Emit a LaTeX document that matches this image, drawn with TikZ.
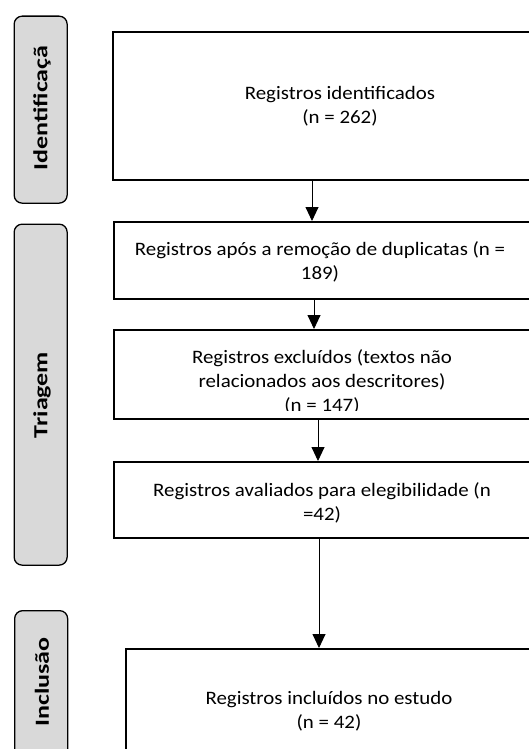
\documentclass[tikz,border=0pt]{standalone}
\usepackage{fontspec}
\setmainfont{Carlito}
\newfontfamily\boxfont[FakeStretch=1.1]{Carlito}
\newfontfamily\tabfont[FakeStretch=1.3]{Carlito}
\usetikzlibrary{positioning}
\usetikzlibrary{arrows.meta}
\tikzset{
    box/.style = {rectangle, draw=black, line width=1.6pt, fill=white, anchor=north west, inner sep=0pt},
    tab/.style = {rectangle, rounded corners=8pt, draw=black, line width=1.3pt, fill=gray!30, anchor=north west, inner sep=0pt, minimum width=53pt},
    boxtext/.style = {align=center, font=\boxfont\fontsize{19}{24}\selectfont},
    tabtext/.style = {rotate=90, font=\tabfont\fontsize{20}{24}\selectfont\bfseries},
    edgen/.style = {-{Triangle[length=14pt,width=13pt]}, line width=0.9pt, black}
}
\begin{document}
\begin{tikzpicture}[x=1pt,y=-1pt]
\useasboundingbox (0,0) rectangle (529,749);
\clip (0,0) rectangle (529,749);

% phases
\node[tab,minimum height=187pt] at (13.5,15.5) (tabident) {};
\node[tab,minimum height=341pt] at (13.5,223.5) (tabtriag) {};
\node[tab,minimum height=150pt] at (14,610) (tabincl) {};
\node[tabtext] at (42,108) (lident) {Identificaçã};
\node[tabtext] at (42,395) (ltriag) {Triagem};
\node[tabtext] at (42,682) (lincl) {Inclusão};

% boxes
\node[box,minimum width=460pt,minimum height=148pt] at (112,31) (ident) {};
\node[box,minimum width=460pt,minimum height=77pt] at (113,221) (dupl) {};
\node[box,minimum width=460pt,minimum height=89pt] at (113,329) (excl) {};
\node[box,minimum width=460pt,minimum height=76pt] at (113,461) (aval) {};
\node[box,minimum width=460pt,minimum height=120pt] at (125,648) (incl) {};

\node[boxtext] at (340,106) (tident) {Registros identificados\\(n = 262)};
\node[boxtext] at (320,262) (tdupl) {Registros após a remoção de duplicatas (n =\\189)};
\begin{scope}
\clip (113,329) rectangle (529,410);
\node[boxtext] at (322,381.5) (texcl) {Registros excluídos (textos não\\relacionados aos descritores)\\(n = 147)};
\end{scope}
\node[boxtext] at (322,502.5) (taval) {Registros avaliados para elegibilidade (n\\=42)};
\node[boxtext] at (329,711) (tincl) {Registros incluídos no estudo\\(n = 42)};

% arrows
\draw[edgen] (ident.south west -| 312,0) -- (dupl.north west -| 312,0);
\draw[edgen] (dupl.south west -| 314,0) -- (excl.north west -| 314,0);
\draw[edgen] (excl.south west -| 318,0) -- (aval.north west -| 318,0);
\draw[edgen] (aval.south west -| 319,0) -- (incl.north west -| 319,0);
\end{tikzpicture}
\end{document}
